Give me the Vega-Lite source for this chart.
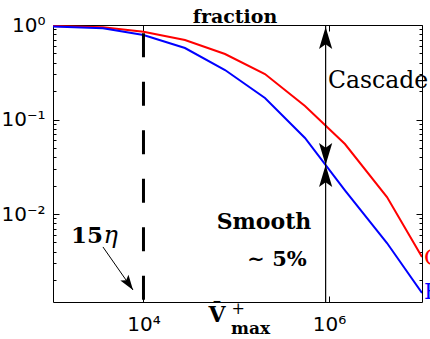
{
  "$schema": "https://vega.github.io/schema/vega-lite/v6.json",
  "width": 369,
  "height": 277,
  "autosize": {"type": "none"},
  "padding": {"left": 53, "top": 25, "right": 8, "bottom": 37},
  "background": "white",
  "config": {
    "view": {"stroke": "#000", "strokeWidth": 1},
    "axis": {"grid": false, "domain": false, "tickColor": "#000", "tickWidth": 1, "labelColor": "#000", "labelFont": "DejaVu Sans", "labelFontSize": 20, "labelFlush": false, "labelOverlap": false}
  },
  "datasets": {
    "curves": [
      {"series": "C", "x": 1058, "y": 0.975},
      {"series": "C", "x": 3656, "y": 0.944},
      {"series": "C", "x": 10000, "y": 0.849},
      {"series": "C", "x": 28000, "y": 0.693},
      {"series": "C", "x": 75700, "y": 0.493},
      {"series": "C", "x": 204000, "y": 0.303},
      {"series": "C", "x": 551000, "y": 0.139},
      {"series": "C", "x": 1486000, "y": 0.055},
      {"series": "C", "x": 4220000, "y": 0.0151},
      {"series": "C", "x": 10060000, "y": 0.00351},
      {"series": "B", "x": 1058, "y": 0.964},
      {"series": "B", "x": 3656, "y": 0.923},
      {"series": "B", "x": 10000, "y": 0.783},
      {"series": "B", "x": 28000, "y": 0.571},
      {"series": "B", "x": 75700, "y": 0.334},
      {"series": "B", "x": 204000, "y": 0.169},
      {"series": "B", "x": 551000, "y": 0.0637},
      {"series": "B", "x": 1486000, "y": 0.0178},
      {"series": "B", "x": 4220000, "y": 0.00493},
      {"series": "B", "x": 10060000, "y": 0.00146}
    ]
  },
  "resolve": {"axis": {"x": "independent", "y": "independent"}},
  "layer": [
    {
      "data": {"name": "curves"},
      "mark": {"type": "line", "strokeWidth": 2, "clip": true},
      "encoding": {
        "x": {"field": "x", "type": "quantitative", "scale": {"type": "log", "domain": [1058, 10063000], "nice": false},
              "axis": {"orient": "bottom", "values": [10000, 1000000], "labelExpr": "datum.value == 10000 ? '10⁴' : '10⁶'", "tickSize": -6, "labelPadding": 18, "title": null}},
        "y": {"field": "y", "type": "quantitative", "scale": {"type": "log", "domain": [0.001172, 1], "nice": false},
              "axis": {"orient": "left", "values": [0.01, 0.1, 1], "labelExpr": "datum.value == 1 ? '10⁰' : datum.value == 0.1 ? '10⁻¹' : '10⁻²'", "tickSize": -6, "labelPadding": 14, "title": null}},
        "color": {"field": "series", "type": "nominal", "scale": {"domain": ["C", "B"], "range": ["#ff0000", "#0000ff"]}, "legend": null}
      }
    },
    {
      "data": {"values": [{"x": 10000, "y": 0.82, "y2": 0.001172}]},
      "mark": {"type": "rule", "strokeWidth": 3, "color": "#000", "strokeDash": [24, 24.5]},
      "encoding": {
        "x": {"field": "x", "type": "quantitative", "scale": {"type": "log", "domain": [1058, 10063000], "nice": false},
              "axis": {"orient": "top", "values": [10000, 1000000], "labels": false, "tickSize": -6, "title": null}},
        "y": {"field": "y", "type": "quantitative", "scale": {"type": "log", "domain": [0.001172, 1], "nice": false},
              "axis": {"orient": "right", "values": [0.01, 0.1, 1], "labels": false, "tickSize": -6, "title": null}},
        "y2": {"field": "y2"}
      }
    },
    {
      "data": {"values": [{"x": 920000, "y": 1, "y2": 0.001172}]},
      "mark": {"type": "rule", "strokeWidth": 1.2, "color": "#000"},
      "encoding": {
        "x": {"field": "x", "type": "quantitative", "scale": {"type": "log", "domain": [1058, 10063000], "nice": false}, "axis": null},
        "y": {"field": "y", "type": "quantitative", "scale": {"type": "log", "domain": [0.001172, 1], "nice": false},
              "axis": {"orient": "left", "values": [0.002, 0.003, 0.004, 0.005, 0.006, 0.007, 0.008, 0.009, 0.02, 0.03, 0.04, 0.05, 0.06, 0.07, 0.08, 0.09, 0.2, 0.3, 0.4, 0.5, 0.6, 0.7, 0.8, 0.9], "labels": false, "tickSize": -3, "title": null}},
        "y2": {"field": "y2"}
      }
    },
    {
      "data": {"values": [{"x": 3656, "y": 0.00448, "x2": 7710, "y2": 0.00157}]},
      "mark": {"type": "rule", "strokeWidth": 1, "color": "#000"},
      "encoding": {
        "x": {"field": "x", "type": "quantitative", "scale": {"type": "log", "domain": [1058, 10063000], "nice": false}, "axis": null},
        "y": {"field": "y", "type": "quantitative", "scale": {"type": "log", "domain": [0.001172, 1], "nice": false},
              "axis": {"orient": "right", "values": [0.002, 0.003, 0.004, 0.005, 0.006, 0.007, 0.008, 0.009, 0.02, 0.03, 0.04, 0.05, 0.06, 0.07, 0.08, 0.09, 0.2, 0.3, 0.4, 0.5, 0.6, 0.7, 0.8, 0.9], "labels": false, "tickSize": -3, "title": null}},
        "x2": {"field": "x2"},
        "y2": {"field": "y2"}
      }
    },
    {
      "data": {"values": [{"x": 920000, "y": 0.953}, {"x": 920000, "y": 0.033}]},
      "mark": {"type": "point", "shape": "M0,0L-0.3,1L0,0.78L0.3,1Z", "size": 1936, "filled": true, "color": "#000", "opacity": 1, "strokeWidth": 0},
      "encoding": {
        "x": {"field": "x", "type": "quantitative", "scale": {"type": "log", "domain": [1058, 10063000], "nice": false}, "axis": null},
        "y": {"field": "y", "type": "quantitative", "scale": {"type": "log", "domain": [0.001172, 1], "nice": false}, "axis": null}
      }
    },
    {
      "data": {"values": [{"x": 920000, "y": 0.033}]},
      "mark": {"type": "point", "shape": "M0,0L-0.3,-1L0,-0.78L0.3,-1Z", "size": 1936, "filled": true, "color": "#000", "opacity": 1, "strokeWidth": 0},
      "encoding": {
        "x": {"field": "x", "type": "quantitative", "scale": {"type": "log", "domain": [1058, 10063000], "nice": false}, "axis": null},
        "y": {"field": "y", "type": "quantitative", "scale": {"type": "log", "domain": [0.001172, 1], "nice": false}, "axis": null}
      }
    },
    {
      "data": {"values": [{"x": 7710, "y": 0.00157}]},
      "mark": {"type": "point", "shape": "M0,0L-0.33,1L0,0.8L0.33,1Z", "size": 900, "angle": 145, "filled": true, "color": "#000", "opacity": 1, "strokeWidth": 0},
      "encoding": {
        "x": {"field": "x", "type": "quantitative", "scale": {"type": "log", "domain": [1058, 10063000], "nice": false}, "axis": null},
        "y": {"field": "y", "type": "quantitative", "scale": {"type": "log", "domain": [0.001172, 1], "nice": false}, "axis": null}
      }
    },
    {
      "data": {"values": [{"label": "Cascade", "x": 975000, "y": 0.2155}]},
      "mark": {"type": "text", "font": "DejaVu Serif", "fontSize": 23.5, "align": "left", "baseline": "alphabetic", "color": "#000"},
      "encoding": {
        "x": {"field": "x", "type": "quantitative", "scale": {"type": "log", "domain": [1058, 10063000], "nice": false}, "axis": null},
        "y": {"field": "y", "type": "quantitative", "scale": {"type": "log", "domain": [0.001172, 1], "nice": false}, "axis": null},
        "text": {"field": "label"}
      }
    },
    {
      "data": {"values": [{"label": "Smooth", "x": 199000, "y": 0.00694}]},
      "mark": {"type": "text", "font": "DejaVu Serif", "fontSize": 22, "fontWeight": "bold", "align": "center", "baseline": "alphabetic", "color": "#000"},
      "encoding": {
        "x": {"field": "x", "type": "quantitative", "scale": {"type": "log", "domain": [1058, 10063000], "nice": false}, "axis": null},
        "y": {"field": "y", "type": "quantitative", "scale": {"type": "log", "domain": [0.001172, 1], "nice": false}, "axis": null},
        "text": {"field": "label"}
      }
    },
    {
      "data": {"values": [{"label": "∼ 5%", "x": 275000, "y": 0.002818}]},
      "mark": {"type": "text", "font": "DejaVu Serif", "fontSize": 21, "fontWeight": "bold", "align": "center", "baseline": "alphabetic", "color": "#000"},
      "encoding": {
        "x": {"field": "x", "type": "quantitative", "scale": {"type": "log", "domain": [1058, 10063000], "nice": false}, "axis": null},
        "y": {"field": "y", "type": "quantitative", "scale": {"type": "log", "domain": [0.001172, 1], "nice": false}, "axis": null},
        "text": {"field": "label"}
      }
    },
    {
      "data": {"values": [{"label": "15", "x": 3656, "y": 0.00493}]},
      "mark": {"type": "text", "font": "DejaVu Serif", "fontSize": 23, "fontWeight": "bold", "align": "right", "baseline": "alphabetic", "color": "#000"},
      "encoding": {
        "x": {"field": "x", "type": "quantitative", "scale": {"type": "log", "domain": [1058, 10063000], "nice": false}, "axis": null},
        "y": {"field": "y", "type": "quantitative", "scale": {"type": "log", "domain": [0.001172, 1], "nice": false}, "axis": null},
        "text": {"field": "label"}
      }
    },
    {
      "data": {"values": [{"label": "η", "x": 3700, "y": 0.00493}]},
      "mark": {"type": "text", "font": "DejaVu Serif", "fontSize": 24, "fontStyle": "italic", "align": "left", "baseline": "alphabetic", "color": "#000"},
      "encoding": {
        "x": {"field": "x", "type": "quantitative", "scale": {"type": "log", "domain": [1058, 10063000], "nice": false}, "axis": null},
        "y": {"field": "y", "type": "quantitative", "scale": {"type": "log", "domain": [0.001172, 1], "nice": false}, "axis": null},
        "text": {"field": "label"}
      }
    },
    {
      "data": {"values": [{"label": "fraction", "x": 97000, "y": 1.05}]},
      "mark": {"type": "text", "font": "DejaVu Serif", "fontSize": 19, "fontWeight": "bold", "align": "center", "baseline": "alphabetic", "color": "#000"},
      "encoding": {
        "x": {"field": "x", "type": "quantitative", "scale": {"type": "log", "domain": [1058, 10063000], "nice": false}, "axis": null},
        "y": {"field": "y", "type": "quantitative", "scale": {"type": "log", "domain": [0.001172, 1], "nice": false}, "axis": null},
        "text": {"field": "label"}
      }
    },
    {
      "data": {"values": [{"label": "V̄", "x": 61900, "y": 0.000719}]},
      "mark": {"type": "text", "font": "DejaVu Serif", "fontSize": 22, "fontWeight": "bold", "align": "center", "baseline": "alphabetic", "color": "#000"},
      "encoding": {
        "x": {"field": "x", "type": "quantitative", "scale": {"type": "log", "domain": [1058, 10063000], "nice": false}, "axis": null},
        "y": {"field": "y", "type": "quantitative", "scale": {"type": "log", "domain": [0.001172, 1], "nice": false}, "axis": null},
        "text": {"field": "label"}
      }
    },
    {
      "data": {"values": [{"label": "+", "x": 89000, "y": 0.00099}]},
      "mark": {"type": "text", "font": "DejaVu Serif", "fontSize": 16, "align": "left", "baseline": "middle", "color": "#000"},
      "encoding": {
        "x": {"field": "x", "type": "quantitative", "scale": {"type": "log", "domain": [1058, 10063000], "nice": false}, "axis": null},
        "y": {"field": "y", "type": "quantitative", "scale": {"type": "log", "domain": [0.001172, 1], "nice": false}, "axis": null},
        "text": {"field": "label"}
      }
    },
    {
      "data": {"values": [{"label": "max", "x": 87700, "y": 0.000537}]},
      "mark": {"type": "text", "font": "DejaVu Serif", "fontSize": 17, "fontWeight": "bold", "align": "left", "baseline": "alphabetic", "color": "#000"},
      "encoding": {
        "x": {"field": "x", "type": "quantitative", "scale": {"type": "log", "domain": [1058, 10063000], "nice": false}, "axis": null},
        "y": {"field": "y", "type": "quantitative", "scale": {"type": "log", "domain": [0.001172, 1], "nice": false}, "axis": null},
        "text": {"field": "label"}
      }
    },
    {
      "data": {"values": [{"label": "C", "x": 10570000, "y": 0.00342}]},
      "mark": {"type": "text", "font": "DejaVu Serif", "fontSize": 22, "align": "left", "baseline": "middle", "color": "#ff0000"},
      "encoding": {
        "x": {"field": "x", "type": "quantitative", "scale": {"type": "log", "domain": [1058, 10063000], "nice": false}, "axis": null},
        "y": {"field": "y", "type": "quantitative", "scale": {"type": "log", "domain": [0.001172, 1], "nice": false}, "axis": null},
        "text": {"field": "label"}
      }
    },
    {
      "data": {"values": [{"label": "B", "x": 10570000, "y": 0.0015}]},
      "mark": {"type": "text", "font": "DejaVu Serif", "fontSize": 22, "align": "left", "baseline": "middle", "color": "#0000ff"},
      "encoding": {
        "x": {"field": "x", "type": "quantitative", "scale": {"type": "log", "domain": [1058, 10063000], "nice": false}, "axis": null},
        "y": {"field": "y", "type": "quantitative", "scale": {"type": "log", "domain": [0.001172, 1], "nice": false}, "axis": null},
        "text": {"field": "label"}
      }
    }
  ]
}
